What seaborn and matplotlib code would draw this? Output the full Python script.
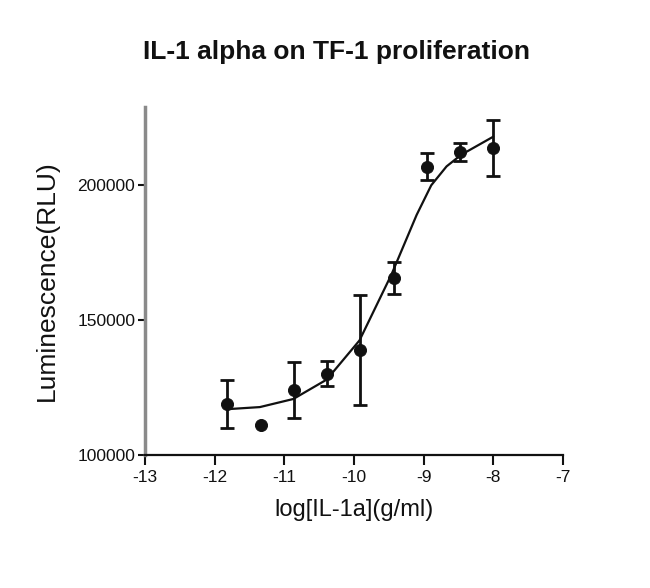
import numpy as np
import pandas as pd
import matplotlib
matplotlib.use("Agg")
import matplotlib.pyplot as plt
import seaborn as sns

# measured points: log10 concentration (3-fold dilutions), mean and SD
log_conc = [-11.817, -11.340, -10.863, -10.386, -9.908, -9.431, -8.954, -8.477, -8.0]
lum_mean = [118900, 111100, 124100, 130200, 138900, 165700, 206800, 212300, 213800]
lum_sd = [9000, 0, 10500, 4700, 20300, 5900, 5000, 3400, 10300]

# fitted curve
curve_x = [-11.83, -11.35, -10.87, -10.39, -9.92, -9.46, -9.10, -8.89, -8.67, -8.46, -8.00]
curve_y = [117000, 117800, 120800, 128000, 142500, 167000, 189000, 200000, 207000, 211300, 218000]

x_ticks = [-13, -12, -11, -10, -9, -8, -7]
y_ticks = [100000, 150000, 200000]


def plot_dose_response():
    sns.set_style("ticks")
    plt.rcParams["font.family"] = ["Liberation Sans", "DejaVu Sans"]
    plt.rcParams["text.color"] = "#111111"
    plt.rcParams["axes.labelcolor"] = "#111111"
    plt.rcParams["xtick.color"] = "#111111"
    plt.rcParams["ytick.color"] = "#111111"

    fig = plt.figure(figsize=(6.5, 5.88), dpi=100)
    ax = fig.add_axes([0.223, 0.226, 0.643, 0.592])

    curve = pd.DataFrame({"x": curve_x, "y": curve_y})
    pts = pd.DataFrame({"x": log_conc, "y": lum_mean, "sd": lum_sd})

    sns.lineplot(data=curve, x="x", y="y", ax=ax, color="#111111", linewidth=1.6)
    with_err = pts[pts["sd"] > 0]
    ax.errorbar(with_err["x"], with_err["y"], yerr=with_err["sd"], fmt="none",
                ecolor="#111111", elinewidth=2, capsize=5, capthick=2)
    sns.scatterplot(data=pts, x="x", y="y", ax=ax, color="#111111", s=75,
                    edgecolor="#111111", zorder=5)

    ax.set_xlim(-13, -7)
    ax.set_ylim(100000, 229000)
    ax.set_xticks(x_ticks)
    ax.set_xticklabels([str(t) for t in x_ticks])
    ax.set_yticks(y_ticks)
    ax.set_yticklabels([str(t) for t in y_ticks])
    ax.tick_params(axis="x", length=7, width=1.5, labelsize=12.5, pad=4)
    ax.tick_params(axis="y", length=5, width=1.5, labelsize=12.5, pad=2)

    sns.despine(ax=ax)
    ax.spines["left"].set_color("#8a8a8a")
    ax.spines["left"].set_linewidth(2.5)
    ax.spines["bottom"].set_color("#111111")
    ax.spines["bottom"].set_linewidth(1.6)

    ax.set_xlabel("log[IL-1a](g/ml)", fontsize=17, labelpad=10)
    ax.set_ylabel("Luminescence(RLU)", fontsize=19, labelpad=13)
    fig.text(0.518, 0.9, "IL-1 alpha on TF-1 proliferation", ha="center",
             va="baseline", fontsize=19, fontweight="bold")

    fig.savefig("out.png", dpi=100)


plot_dose_response()
